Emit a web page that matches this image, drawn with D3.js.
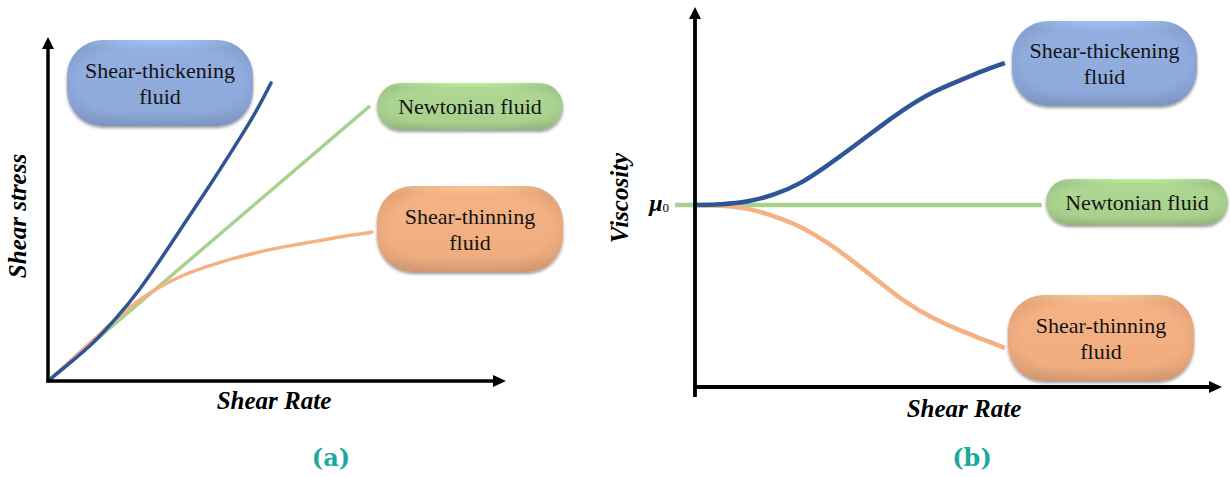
<!DOCTYPE html>
<html>
<head>
<meta charset="utf-8">
<script src="https://cdn.jsdelivr.net/npm/d3@7"></script>
<style>
  html, body { margin: 0; padding: 0; background: #ffffff; }
  svg { display: block; }
</style>
</head>
<body>
<svg id="chart" width="1230" height="477"></svg>
<script>
// ---------- Data: panel (a), shear stress vs shear rate (arbitrary units) ----------
const rateThickA = [0, 0.5, 1, 1.5, 2, 2.5, 3, 3.5, 4, 4.5, 4.87];
const stressThickA = [0, 0.55, 1.11, 1.84, 2.65, 3.62, 4.64, 5.63, 6.68, 7.73, 8.69];

const rateThinA = [0, 0.5, 1, 1.5, 2, 2.5, 3, 3.5, 4, 4.5, 5, 5.5, 6, 6.5, 7, 7.07];
const stressThinA = [0, 0.61, 1.20, 1.84, 2.39, 2.80, 3.12, 3.35, 3.56, 3.73, 3.88, 3.99, 4.11, 4.23, 4.32, 4.34];

const rateNewtA = [0, 7.03];
const stressNewtA = [0, 8.02];

// ---------- Data: panel (b), viscosity (relative to mu0) vs shear rate ----------
const rateB = [0, 0.5, 1, 1.5, 2, 2.5, 3, 3.5, 4, 4.5, 5, 5.5, 5.88];
const viscThickB = [1.0, 1.003, 1.016, 1.055, 1.115, 1.214, 1.319, 1.429, 1.533, 1.621, 1.681, 1.742, 1.780];
const viscThinB = [1.0, 0.997, 0.984, 0.940, 0.885, 0.797, 0.692, 0.577, 0.462, 0.379, 0.313, 0.258, 0.214];
const rateNewtB = [-0.38, 6.58];
const viscNewtB = [1, 1];

// ---------- Text ----------
const axisTitlesA = { x: "Shear Rate", y: "Shear stress" };
const axisTitlesB = { x: "Shear Rate", y: "Viscosity" };
const panelTags = ["(a)", "(b)"];
const fluidLines = {
  thick: ["Shear-thickening", "fluid"],
  newt: ["Newtonian fluid"],
  thin: ["Shear-thinning", "fluid"]
};

// ---------- Styles ----------
const lineColor = { thick: "#2f5597", newt: "#a9d18e", thin: "#f4b183" };
const pillColor = { thick: "#8eaadb", newt: "#a9d18e", thin: "#efad80" };

const svg = d3.select("#chart");
const defs = svg.append("defs");

// soft drop shadow under the label pills
const shadow = defs.append("filter").attr("id", "pillShadow")
  .attr("x", "-10%").attr("y", "-10%").attr("width", "120%").attr("height", "130%");
shadow.append("feDropShadow").attr("dx", 0).attr("dy", 2)
  .attr("stdDeviation", 1.8).attr("flood-color", "#000").attr("flood-opacity", 0.4);

// bevel-like gradients for each pill colour
Object.entries(pillColor).forEach(([k, c]) => {
  const base = d3.color(c);
  const g = defs.append("linearGradient").attr("id", "grad-" + k)
    .attr("x1", 0).attr("y1", 0).attr("x2", 0).attr("y2", 1);
  g.append("stop").attr("offset", "0%").attr("stop-color", base.brighter(0.5));
  g.append("stop").attr("offset", "10%").attr("stop-color", base.brighter(0.08));
  g.append("stop").attr("offset", "82%").attr("stop-color", base);
  g.append("stop").attr("offset", "100%").attr("stop-color", base.darker(0.3));
  const r = defs.append("radialGradient").attr("id", "edge-" + k)
    .attr("cx", "50%").attr("cy", "50%").attr("r", "60%");
  r.append("stop").attr("offset", "72%").attr("stop-color", base.darker(0.5)).attr("stop-opacity", 0);
  r.append("stop").attr("offset", "100%").attr("stop-color", base.darker(0.5)).attr("stop-opacity", 0.5);
});

const serif = "'Liberation Serif', 'Times New Roman', serif";

function pill(g, key, box, lines) {
  const rx = Math.min(box.h / 2, 36);
  g.append("rect").attr("x", box.x).attr("y", box.y).attr("width", box.w).attr("height", box.h)
    .attr("rx", rx).attr("ry", rx)
    .attr("fill", `url(#grad-${key})`).attr("filter", "url(#pillShadow)");
  g.append("rect").attr("x", box.x).attr("y", box.y).attr("width", box.w).attr("height", box.h)
    .attr("rx", rx).attr("ry", rx).attr("fill", `url(#edge-${key})`);
  const cx = box.x + box.w / 2, cy = box.y + box.h / 2;
  const offs = lines.length === 1 ? [7.5] : [-5.5, 20.5];
  lines.forEach((t, i) => {
    g.append("text").attr("x", cx).attr("y", cy + offs[i])
      .attr("text-anchor", "middle").attr("font-family", serif)
      .attr("font-size", 22).attr("fill", "#141414").text(t);
  });
}

function arrowUp(g, x, y, w, h) {
  g.append("path").attr("d", `M${x},${y} L${x - w / 2},${y + h} L${x + w / 2},${y + h} Z`).attr("fill", "#000");
}
function arrowRight(g, x, y, w, h) {
  g.append("path").attr("d", `M${x},${y} L${x - h},${y - w / 2} L${x - h},${y + w / 2} Z`).attr("fill", "#000");
}

function zipPts(xs, ys) { return xs.map((v, i) => [v, ys[i]]); }

// ================= Panel (a) =================
const xA = d3.scaleLinear().domain([0, 10]).range([48, 506]);
const yA = d3.scaleLinear().domain([0, 10]).range([381, 38]);
const gA = svg.append("g");

const lineA = d3.line().x(d => xA(d[0])).y(d => yA(d[1])).curve(d3.curveBasis);

gA.append("path").datum(zipPts(rateNewtA, stressNewtA)).attr("d", lineA)
  .attr("fill", "none").attr("stroke", lineColor.newt).attr("stroke-width", 3.5);
gA.append("path").datum(zipPts(rateThinA, stressThinA)).attr("d", lineA)
  .attr("fill", "none").attr("stroke", lineColor.thin).attr("stroke-width", 3.5).attr("stroke-linecap", "round");
gA.append("path").datum(zipPts(rateThickA, stressThickA)).attr("d", lineA)
  .attr("fill", "none").attr("stroke", lineColor.thick).attr("stroke-width", 3.5).attr("stroke-linecap", "round");

// axes
gA.append("line").attr("x1", xA(0)).attr("y1", yA(0) + 1.5).attr("x2", xA(0)).attr("y2", yA(10) + 8)
  .attr("stroke", "#000").attr("stroke-width", 3.5);
gA.append("line").attr("x1", xA(0) - 1.5).attr("y1", yA(0)).attr("x2", xA(10) - 8).attr("y2", yA(0))
  .attr("stroke", "#000").attr("stroke-width", 3.5);
arrowUp(gA, xA(0), yA(10) - 1, 12, 12);
arrowRight(gA, xA(10), yA(0), 12, 13);

gA.append("text").attr("x", 274).attr("y", 409).attr("text-anchor", "middle")
  .attr("font-family", serif).attr("font-weight", "bold").attr("font-style", "italic")
  .attr("font-size", 25).attr("fill", "#000").text(axisTitlesA.x);
gA.append("text").attr("transform", "translate(26,216) rotate(-90)").attr("text-anchor", "middle")
  .attr("font-family", serif).attr("font-weight", "bold").attr("font-style", "italic")
  .attr("font-size", 25).attr("fill", "#000").text(axisTitlesA.y);

pill(gA, "thick", { x: 67, y: 40, w: 186, h: 86 }, fluidLines.thick);
pill(gA, "newt", { x: 377, y: 83, w: 186, h: 47 }, fluidLines.newt);
pill(gA, "thin", { x: 377, y: 186, w: 186, h: 86 }, fluidLines.thin);

gA.append("text").attr("x", 331).attr("y", 466).attr("text-anchor", "middle")
  .attr("font-family", "'DejaVu Serif', serif").attr("font-weight", "bold")
  .attr("font-size", 24).attr("fill", "#1aa99b").text(panelTags[0]);

// ================= Panel (b) =================
const xB = d3.scaleLinear().domain([0, 10]).range([695, 1222]);
const yB = d3.scaleLinear().domain([0, 1]).range([387, 205]);
const gB = svg.append("g");

const lineB = d3.line().x(d => xB(d[0])).y(d => yB(d[1])).curve(d3.curveBasis);

gB.append("path").datum(zipPts(rateNewtB, viscNewtB)).attr("d", lineB)
  .attr("fill", "none").attr("stroke", lineColor.newt).attr("stroke-width", 4.5);
gB.append("path").datum(zipPts(rateB, viscThinB)).attr("d", lineB)
  .attr("fill", "none").attr("stroke", lineColor.thin).attr("stroke-width", 4.5);
gB.append("path").datum(zipPts(rateB, viscThickB)).attr("d", lineB)
  .attr("fill", "none").attr("stroke", lineColor.thick).attr("stroke-width", 4.5);

// axes
const yTopB = yB.invert(8);
gB.append("line").attr("x1", xB(0)).attr("y1", yB(0) + 10).attr("x2", xB(0)).attr("y2", yB(yTopB) + 8)
  .attr("stroke", "#000").attr("stroke-width", 3.8);
gB.append("line").attr("x1", xB(0) - 1.5).attr("y1", yB(0)).attr("x2", xB(10) - 8).attr("y2", yB(0))
  .attr("stroke", "#000").attr("stroke-width", 3.8);
arrowUp(gB, xB(0), yB(yTopB) - 1, 12, 12);
arrowRight(gB, xB(10), yB(0), 12, 13);

// mu0 reference level on the viscosity axis
const mu = gB.append("text").attr("x", xB(0) - 26).attr("y", yB(1) + 6).attr("text-anchor", "end")
  .attr("font-family", serif).attr("font-weight", "bold").attr("font-style", "italic")
  .attr("font-size", 24).attr("fill", "#000");
mu.append("tspan").text("\u03bc");
mu.append("tspan").attr("dy", 1).attr("font-size", 13).attr("font-style", "normal").attr("font-weight", "normal").text("0");

gB.append("text").attr("x", 964).attr("y", 417).attr("text-anchor", "middle")
  .attr("font-family", serif).attr("font-weight", "bold").attr("font-style", "italic")
  .attr("font-size", 25).attr("fill", "#000").text(axisTitlesB.x);
gB.append("text").attr("transform", "translate(628,198) rotate(-90)").attr("text-anchor", "middle")
  .attr("font-family", serif).attr("font-weight", "bold").attr("font-style", "italic")
  .attr("font-size", 25).attr("fill", "#000").text(axisTitlesB.y);

pill(gB, "thick", { x: 1012, y: 21, w: 185, h: 85 }, fluidLines.thick);
pill(gB, "newt", { x: 1046, y: 179, w: 182, h: 46 }, fluidLines.newt);
pill(gB, "thin", { x: 1008, y: 295, w: 186, h: 86 }, fluidLines.thin);

gB.append("text").attr("x", 972).attr("y", 466).attr("text-anchor", "middle")
  .attr("font-family", "'DejaVu Serif', serif").attr("font-weight", "bold")
  .attr("font-size", 24).attr("fill", "#1aa99b").text(panelTags[1]);
</script>
</body>
</html>
